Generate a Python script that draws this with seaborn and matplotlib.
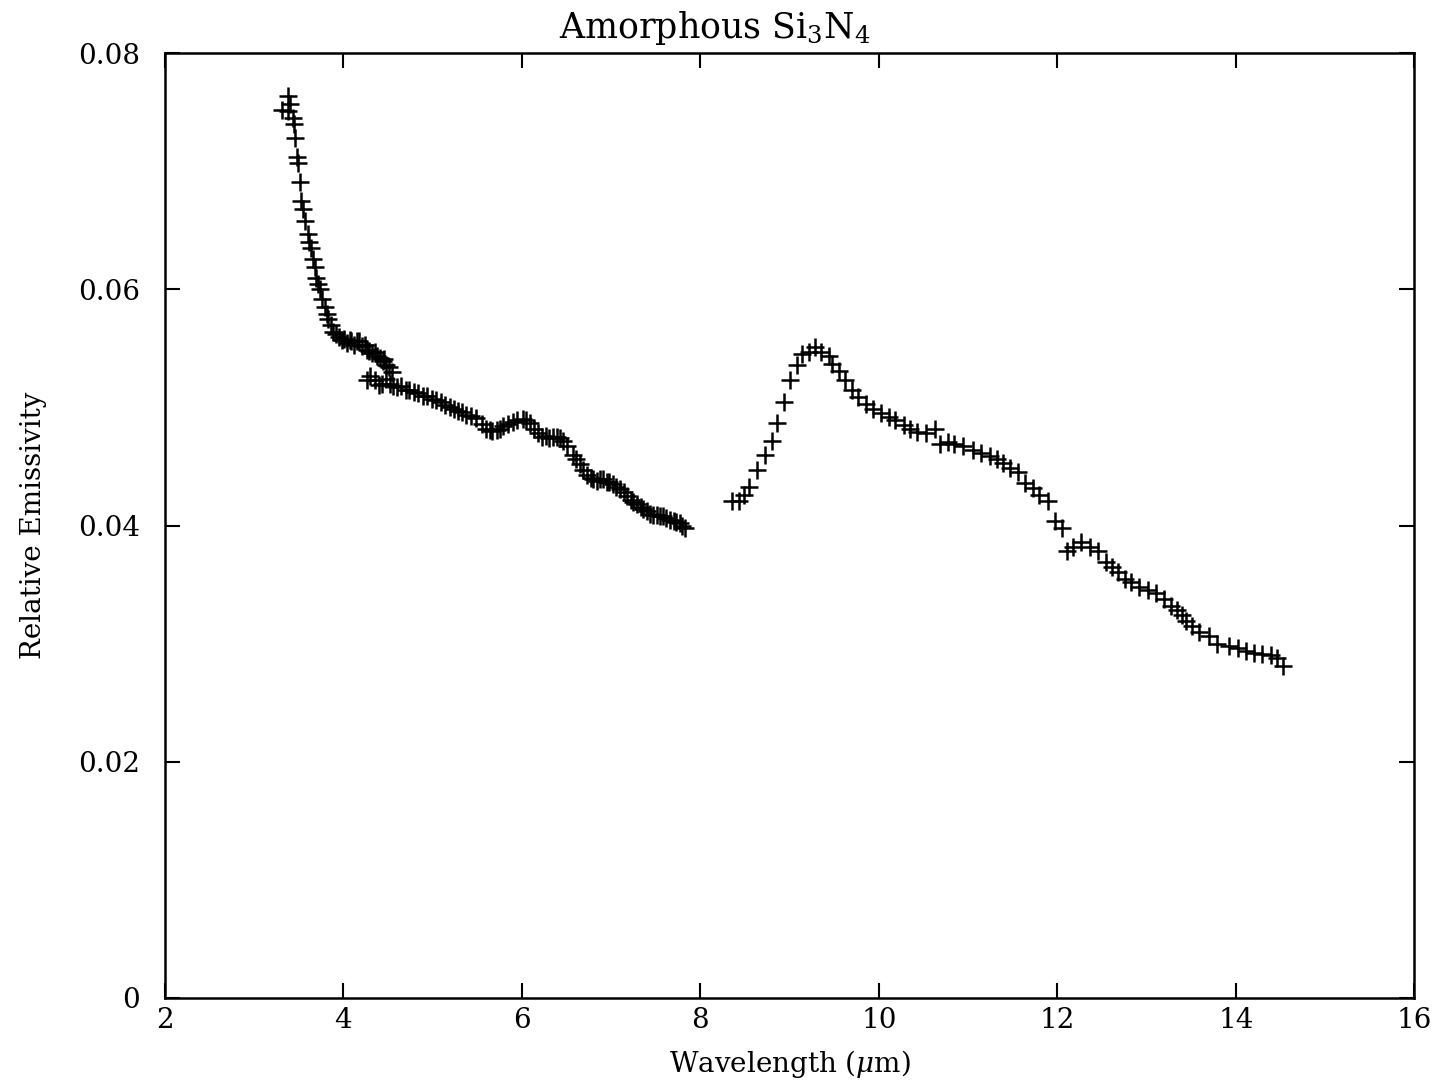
import numpy as np
import pandas as pd
import matplotlib
matplotlib.use("Agg")
import matplotlib.pyplot as plt
import seaborn as sns

# Wavelength (um) and relative emissivity
# segment A: short-wavelength detector (dense)
wl_a = [3.31, 3.38, 3.38, 3.40, 3.44, 3.45, 3.46, 3.48, 3.49, 3.51,
        3.53, 3.55, 3.57, 3.60, 3.62, 3.64, 3.66, 3.68, 3.69, 3.72,
        3.74, 3.76, 3.79, 3.82, 3.83, 3.86, 3.89, 3.92, 3.95, 3.98,
        4.01, 4.04, 4.07, 4.09, 4.12, 4.15, 4.18, 4.21, 4.24, 4.27,
        4.29, 4.32, 4.35, 4.38, 4.41, 4.44, 4.46, 4.48, 4.51, 4.54]
em_a = [0.0752, 0.0751, 0.0764, 0.0757, 0.0745, 0.0740, 0.0728, 0.0712, 0.0707, 0.0691,
        0.0675, 0.0668, 0.0658, 0.0647, 0.0640, 0.0635, 0.0626, 0.0619, 0.0610, 0.0605,
        0.0600, 0.0592, 0.0585, 0.0579, 0.0575, 0.0570, 0.0564, 0.0562, 0.0560, 0.0557,
        0.0558, 0.0555, 0.0557, 0.0556, 0.0553, 0.0556, 0.0556, 0.0552, 0.0553, 0.0549,
        0.0548, 0.0546, 0.0547, 0.0544, 0.0542, 0.0539, 0.0541, 0.0536, 0.0534, 0.0530]

# segment B: 4.3 - 7.8 um
wl_b = [4.26, 4.30, 4.35, 4.40, 4.43, 4.48, 4.52, 4.56, 4.60, 4.65,
        4.70, 4.74, 4.79, 4.84, 4.89, 4.94, 4.99, 5.04, 5.09, 5.14,
        5.19, 5.24, 5.28, 5.33, 5.38, 5.43, 5.49, 5.55, 5.60, 5.64,
        5.67, 5.72, 5.76, 5.79, 5.84, 5.90, 5.95, 6.01, 6.05, 6.09,
        6.14, 6.18, 6.23, 6.27, 6.31, 6.35, 6.39, 6.43, 6.46, 6.51,
        6.57, 6.61, 6.65, 6.69, 6.73, 6.77, 6.80, 6.84, 6.88, 6.91,
        6.95, 6.98, 7.02, 7.06, 7.10, 7.14, 7.18, 7.22, 7.25, 7.29,
        7.33, 7.36, 7.40, 7.44, 7.47, 7.51, 7.55, 7.58, 7.62, 7.66,
        7.70, 7.73, 7.77, 7.80, 7.83]
em_b = [0.0523, 0.0527, 0.0523, 0.0519, 0.0520, 0.0524, 0.0520, 0.0518, 0.0517, 0.0518,
        0.0515, 0.0515, 0.0513, 0.0512, 0.0510, 0.0510, 0.0507, 0.0506, 0.0505, 0.0502,
        0.0500, 0.0499, 0.0497, 0.0496, 0.0494, 0.0493, 0.0491, 0.0486, 0.0482, 0.0481,
        0.0480, 0.0481, 0.0482, 0.0484, 0.0486, 0.0488, 0.0489, 0.0490, 0.0489, 0.0487,
        0.0482, 0.0478, 0.0475, 0.0476, 0.0474, 0.0475, 0.0475, 0.0474, 0.0472, 0.0467,
        0.0460, 0.0456, 0.0452, 0.0447, 0.0443, 0.0440, 0.0439, 0.0438, 0.0439, 0.0439,
        0.0437, 0.0437, 0.0435, 0.0433, 0.0431, 0.0428, 0.0425, 0.0422, 0.0420, 0.0418,
        0.0416, 0.0414, 0.0412, 0.0410, 0.0409, 0.0409, 0.0408, 0.0408, 0.0406, 0.0405,
        0.0404, 0.0403, 0.0402, 0.0400, 0.0398]

# segment C: 8.3 - 14.6 um
wl_c = [8.35, 8.43, 8.49, 8.55, 8.63, 8.73, 8.80, 8.86, 8.94, 9.01,
        9.08, 9.14, 9.22, 9.29, 9.35, 9.44, 9.47, 9.55, 9.62, 9.70,
        9.77, 9.86, 9.94, 10.02, 10.11, 10.18, 10.28, 10.35, 10.43, 10.53,
        10.63, 10.69, 10.77, 10.84, 10.94, 11.06, 11.15, 11.24, 11.32, 11.39,
        11.47, 11.56, 11.64, 11.73, 11.80, 11.90, 11.97, 12.05, 12.11, 12.18,
        12.27, 12.37, 12.46, 12.54, 12.61, 12.68, 12.76, 12.83, 12.92, 13.02,
        13.11, 13.20, 13.27, 13.34, 13.40, 13.44, 13.51, 13.59, 13.70, 13.79,
        13.92, 14.02, 14.11, 14.20, 14.29, 14.39, 14.46, 14.53]
em_c = [0.0421, 0.0421, 0.0426, 0.0433, 0.0447, 0.0460, 0.0472, 0.0487, 0.0505, 0.0523,
        0.0536, 0.0545, 0.0547, 0.0551, 0.0547, 0.0544, 0.0537, 0.0531, 0.0523, 0.0515,
        0.0509, 0.0503, 0.0499, 0.0495, 0.0492, 0.0489, 0.0485, 0.0482, 0.0479, 0.0478,
        0.0482, 0.0469, 0.0471, 0.0469, 0.0467, 0.0464, 0.0461, 0.0459, 0.0456, 0.0453,
        0.0449, 0.0445, 0.0436, 0.0432, 0.0426, 0.0421, 0.0404, 0.0398, 0.0378, 0.0382,
        0.0386, 0.0382, 0.0378, 0.0369, 0.0365, 0.0361, 0.0355, 0.0352, 0.0348, 0.0345,
        0.0343, 0.0338, 0.0332, 0.0328, 0.0324, 0.0319, 0.0315, 0.0310, 0.0306, 0.0300,
        0.0298, 0.0296, 0.0294, 0.0292, 0.0291, 0.0290, 0.0288, 0.0281]

x_ticks = [2, 4, 6, 8, 10, 12, 14, 16]
y_ticks = [0, 0.02, 0.04, 0.06, 0.08]
y_tick_labels = ["0", "0.02", "0.04", "0.06", "0.08"]

df = pd.concat([
    pd.DataFrame({"wl": wl_a, "em": em_a, "seg": "A"}),
    pd.DataFrame({"wl": wl_b, "em": em_b, "seg": "B"}),
    pd.DataFrame({"wl": wl_c, "em": em_c, "seg": "C"}),
], ignore_index=True)

sns.set_style("ticks")
plt.rcParams["font.family"] = ["DejaVu Serif"]
plt.rcParams["mathtext.fontset"] = "dejavuserif"
plt.rcParams["text.color"] = "black"
plt.rcParams["axes.labelcolor"] = "black"

fig = plt.figure(figsize=(14.33, 10.88), dpi=100)
ax = fig.add_axes([0.115, 0.083, 0.872, 0.868])

sns.scatterplot(data=df, x="wl", y="em", marker="+", s=150, linewidth=1.8,
                color="black", ax=ax, legend=False)

ax.set_xlim(2, 16)
ax.set_ylim(0, 0.08)
ax.set_xticks(x_ticks)
ax.set_xticklabels([str(t) for t in x_ticks])
ax.set_yticks(y_ticks)
ax.set_yticklabels(y_tick_labels)
ax.tick_params(direction="in", length=11, width=1.5, top=True, right=True,
               labelsize=20, colors="black")
ax.tick_params(axis="x", pad=7)
ax.tick_params(axis="y", pad=18)
for sp in ax.spines.values():
    sp.set_linewidth(1.8)
    sp.set_color("black")

ax.set_xlabel(r"Wavelength ($\mu$m)", fontsize=20, labelpad=10)
ax.set_ylabel("Relative Emissivity", fontsize=20, labelpad=22)
# title sits a little left of the axes centre in the original
fig.text(0.499, 0.974, r"Amorphous Si$_3$N$_4$", fontsize=25,
         ha="center", va="center")

fig.savefig("out.png", dpi=100, facecolor="white")
